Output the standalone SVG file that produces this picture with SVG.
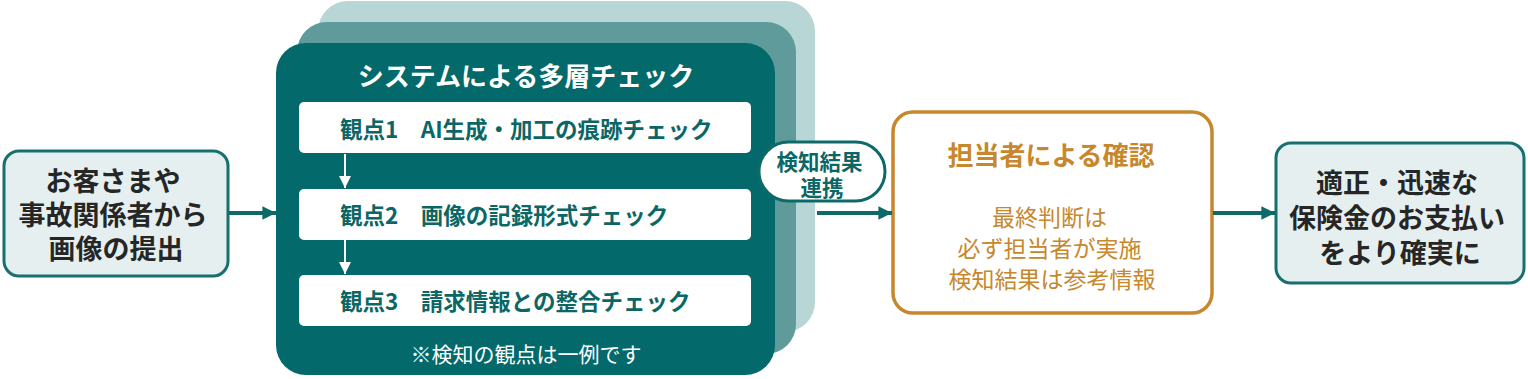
<svg xmlns="http://www.w3.org/2000/svg" width="1528" height="379" viewBox="0 0 1528 379">
<defs>
<style>
.jp{font-family:"Noto Sans CJK JP","Noto Sans CJK SC",sans-serif;}
.b{font-weight:700;}
.dark{fill:#262626;}
.teal{fill:#0B6765;}
.wt{fill:#ffffff;}
.or{fill:#C7872C;}
.inbox{fill:#E5EFEF;stroke:#17706E;stroke-width:3;}
.step{fill:#ffffff;}
.conn{stroke:#0E6A68;stroke-width:4;fill:none;}
.down{stroke:#ffffff;stroke-width:2;fill:none;}
</style>
<marker id="ah" viewBox="0 0 10 10" refX="10" refY="5" markerWidth="3.4" markerHeight="3.4" orient="auto" markerUnits="strokeWidth">
<path d="M0,0 L10,5 L0,10 Z" fill="#0E6A68"/>
</marker>
<marker id="ahw" viewBox="0 0 10 10" refX="10" refY="5" markerWidth="6" markerHeight="6" orient="auto" markerUnits="strokeWidth">
<path d="M0,0 L10,5 L0,10 Z" fill="#ffffff"/>
</marker>
</defs>
<rect width="1528" height="379" fill="#ffffff"/>

<g id="source">
<rect class="inbox" x="4" y="151" width="224" height="125" rx="15"/>
<text class="jp b dark" font-size="27" text-anchor="middle" dominant-baseline="central">
<tspan x="116" y="179">お客さまや</tspan>
<tspan x="116" y="213">事故関係者から</tspan>
<tspan x="116" y="247">画像の提出</tspan>
</text>
</g>

<g id="system-check">
<rect x="318" y="1" width="497" height="331" rx="30" fill="#B8D6D6"/>
<rect x="297" y="22" width="499" height="332" rx="30" fill="#5E9B9A"/>
<rect x="276" y="43" width="499" height="332" rx="30" fill="#03696A"/>
<text class="jp b wt" font-size="26" x="526" y="74" text-anchor="middle" dominant-baseline="central">システムによる多層チェック</text>
<g id="view1">
<rect class="step" x="299" y="102" width="452" height="51" rx="5"/>
<text class="jp b teal" font-size="22.5" x="340" y="128" dominant-baseline="central">観点1　AI生成・加工の痕跡チェック</text>
</g>
<g id="view2">
<rect class="step" x="299" y="189" width="452" height="51" rx="5"/>
<text class="jp b teal" font-size="22.5" x="340" y="214" dominant-baseline="central">観点2　画像の記録形式チェック</text>
</g>
<g id="view3">
<rect class="step" x="299" y="275" width="452" height="51" rx="5"/>
<text class="jp b teal" font-size="22.5" x="340" y="300" dominant-baseline="central">観点3　請求情報との整合チェック</text>
</g>
<line class="down" x1="345" y1="154" x2="345" y2="188" marker-end="url(#ahw)"/>
<line class="down" x1="345" y1="240" x2="345" y2="274" marker-end="url(#ahw)"/>
<text class="jp wt" font-size="21" x="526" y="353" text-anchor="middle" dominant-baseline="central">※検知の観点は一例です</text>
</g>

<g id="result-link">
<rect x="759" y="142" width="126" height="59" rx="29.5" fill="#ffffff" stroke="#0E6A68" stroke-width="3"/>
<text class="jp b teal" font-size="21.5" text-anchor="middle" dominant-baseline="central">
<tspan x="822" y="160">検知結果</tspan>
<tspan x="822" y="186">連携</tspan>
</text>
</g>

<g id="staff">
<rect x="893" y="112" width="319" height="201" rx="20" fill="#ffffff" stroke="#C7872C" stroke-width="3.5"/>
<text class="jp b or" font-size="26" x="1051" y="153" text-anchor="middle" dominant-baseline="central">担当者による確認</text>
<text class="jp or" font-size="23" text-anchor="middle" dominant-baseline="central">
<tspan x="1052" y="216">最終判断は</tspan>
<tspan x="1052" y="247">必ず担当者が実施</tspan>
<tspan x="1052" y="278">検知結果は参考情報</tspan>
</text>
</g>

<g id="goal">
<rect class="inbox" x="1276" y="143" width="248" height="140" rx="15"/>
<text class="jp b dark" font-size="27" text-anchor="middle" dominant-baseline="central">
<tspan x="1400" y="181">適正・迅速な</tspan>
<tspan x="1400" y="216">保険金のお支払い</tspan>
<tspan x="1400" y="251">をより確実に</tspan>
</text>
</g>

<g id="connectors">
<line class="conn" x1="229" y1="213" x2="276" y2="213" marker-end="url(#ah)"/>
<line class="conn" x1="817" y1="213" x2="892" y2="213" marker-end="url(#ah)"/>
<line class="conn" x1="1213" y1="213" x2="1275" y2="213" marker-end="url(#ah)"/>
</g>
</svg>
